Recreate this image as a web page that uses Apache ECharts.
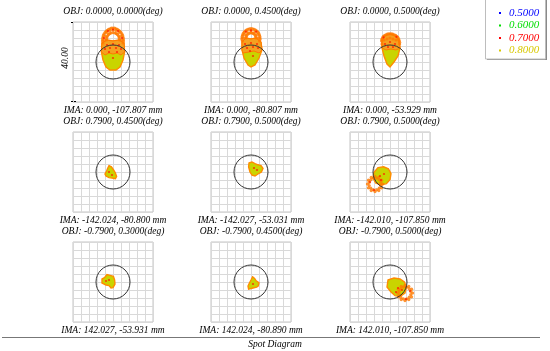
<!DOCTYPE html>
<html><head><meta charset="utf-8">
<script src="https://cdn.jsdelivr.net/npm/echarts@6/dist/echarts.min.js"></script>
<style>html,body{margin:0;padding:0;background:#fff}#c{width:550px;height:351px}</style>
</head><body><div id="c"></div>
<script>
// ---- text / categories ----
const objLabels = [
  'OBJ: 0.0000, 0.0000(deg)', 'OBJ: 0.0000, 0.4500(deg)', 'OBJ: 0.0000, 0.5000(deg)',
  'OBJ: 0.7900, 0.4500(deg)', 'OBJ: 0.7900, 0.5000(deg)', 'OBJ: 0.7900, 0.5000(deg)',
  'OBJ: -0.7900, 0.3000(deg)', 'OBJ: -0.7900, 0.4500(deg)', 'OBJ: -0.7900, 0.5000(deg)'
];
const imaLabels = [
  'IMA: 0.000, -107.807 mm', 'IMA: 0.000, -80.807 mm', 'IMA: 0.000, -53.929 mm',
  'IMA: -142.024, -80.800 mm', 'IMA: -142.027, -53.031 mm', 'IMA: -142.010, -107.850 mm',
  'IMA: 142.027, -53.931 mm', 'IMA: 142.024, -80.890 mm', 'IMA: 142.010, -107.850 mm'
];
const wavelengths = ['0.5000', '0.6000', '0.7000', '0.8000'];
const waveColors = ['#0000ff', '#00dd00', '#ff0000', '#d8c800'];
const scaleLabel = '40.00';
const axisMin = -20, axisMax = 20, axisStep = 4;
const airyRadius = 8.5;

// ---- spot data (units of the 40.00 box) ----
// outline of the 0.8 (yellow) spot cloud
const bodyPolys = [
  [[-5.5,9.5],[-3,11],[0,10.5],[3,11],[5.5,9.5],[5.8,5],[5,1],[3.5,-2.5],[1.5,-4],[-1.5,-4],[-3.5,-2.5],[-5,1],[-5.8,5]],
  [[-4.5,10],[-2.5,12],[0,11.5],[2.5,12],[5,10],[5.5,6],[4,2],[2,-1.5],[0,-2.5],[-1.5,-1.5],[-3.5,2],[-4.5,6]],
  [[-3,13],[0,14],[3,13],[4.5,11],[5,7],[4,3],[2,0],[0,-2.5],[-1.5,-1],[-3,3],[-4,7],[-4,11]],
  [[-2,3.2],[-0.8,2.6],[0.3,1],[1.2,-0.5],[1.8,-2.2],[1.2,-3.3],[-0.5,-3],[-2,-2.8],[-3.5,-2],[-4,-1],[-3.2,0.5],[-2.6,2]],
  [[-1,4.5],[0.5,5],[2,4.2],[3.5,3.6],[5,3.2],[6,1.8],[5.2,0],[3.5,-1],[2,-2],[0.5,-1.6],[-0.5,0],[-1.2,2.5]],
  [[-6,2.2],[-3.2,2.6],[-0.8,1.6],[0.5,-0.8],[0,-3.8],[-1.8,-5.8],[-4.5,-6.5],[-7.2,-5.5],[-8.5,-3],[-8,-0.2]],
  [[-4,2.5],[-3,3.7],[-1.5,3.3],[0.2,2.8],[0.8,1],[1,-1],[0,-2.8],[-1,-3],[-2,-1.8],[-3.5,-1.5],[-5.5,-0.5],[-5.5,1.5],[-4.5,2]],
  [[0.8,2.6],[1.8,1.8],[2.6,0.6],[4,-0.4],[3.6,-2],[2.8,-2.6],[1,-3],[-1.2,-3.6],[-1.5,-2],[-0.8,-0.5],[0,1]],
  [[-1,1],[2,2],[5,1.5],[7.2,0],[8.2,-2.5],[7.5,-5.5],[5,-7.2],[2.5,-6.8],[0.5,-5],[-1.5,-2.5]]
];
// region where 0.7 and 0.8 overlap (orange)
const upperPolys = [
  [[-5.5,9.5],[-3,11],[0,10.5],[3,11],[5.5,9.5],[5.8,5],[4,3.5],[2,4.5],[0,4],[-2,4.5],[-4,3.5],[-5.8,5]],
  [[-4.5,10],[-2.5,12],[0,11.5],[2.5,12],[5,10],[5.5,6],[4,4.5],[1.5,5.5],[-1,5],[-4,4.5],[-4.5,6]],
  [[-3,13],[0,14],[3,13],[4.5,11],[5,7],[3,6],[0.5,6.5],[-2,6],[-4,7],[-4,11]],
  [], [], [], [], [], []
];
// 0.7 ring rays
const ringPts = [
  [[-5,9.5],[-5.2,10.3],[-5.2,11],[-5.1,11.8],[-5,12.5],[-4.8,13.3],[-4.5,14],[-4,14.7],[-3.5,15.3],[-2.9,15.8],[-2.2,16.3],[-1.5,16.6],[-0.8,16.9],[0,17],[0.8,16.9],[1.5,16.6],[2.2,16.3],[2.9,15.8],[3.5,15.3],[4,14.7],[4.5,14],[4.8,13.3],[5,12.5],[5.1,11.8],[5.2,11],[5.2,10.3],[5,9.5],
   [-3.3,11],[-3.2,11.8],[-3,12.5],[-2.7,13.2],[-2.2,13.8],[-1.6,14.2],[-1,14.5],[0,14.7],[1,14.5],[1.6,14.2],[2.2,13.8],[2.7,13.2],[3,12.5],[3.2,11.8],[3.3,11],
   [-4.2,11],[-4,13],[-3,14.8],[-1.5,15.7],[0,16],[1.5,15.7],[3,14.8],[4,13],[4.2,11]],
  [[-4.3,10.5],[-4.5,11.3],[-4.5,12],[-4.4,12.8],[-4.2,13.5],[-3.9,14.2],[-3.5,14.8],[-3,15.4],[-2.3,15.9],[-1.6,16.3],[-0.8,16.6],[0,16.7],[0.8,16.6],[1.6,16.3],[2.3,15.9],[3,15.4],[3.5,14.8],[3.9,14.2],[4.2,13.5],[4.4,12.8],[4.5,12],[4.5,11.3],[4.3,10.5],
   [-2.5,12],[-2.4,12.7],[-2.2,13.3],[-1.7,13.9],[-1.2,14.3],[-0.6,14.5],[0,14.6],[0.6,14.5],[1.2,14.3],[1.7,13.9],[2.2,13.3],[2.4,12.7],[2.5,12],
   [-3.5,12],[-3.2,13.8],[-2,15.1],[0,15.7],[2,15.1],[3.2,13.8],[3.5,12]],
  [[-4,9],[-4.2,10.5],[-4.1,11.3],[-3.8,12],[-3.4,12.7],[-2.8,13.2],[-2.1,13.6],[-1.4,13.9],[-0.7,14.1],[0,14.1],[0.7,14.1],[1.4,13.9],[2.1,13.6],[2.8,13.3],[3.4,12.8],[3.9,12.3],[4.3,11.6],[4.6,10.8],[4.8,9.9],[4.8,9],[-1.5,11.5],[0,12],[1.5,11.5],[-3,11],[3,11]],
  [], [],
  [[-3.7,-6],[-4.2,-4.1],[-5.6,-2.7],[-7.5,-2.2],[-9.4,-2.7],[-10.8,-4.1],[-11.3,-6],[-10.8,-7.9],[-9.4,-9.3],[-7.5,-9.8],[-5.6,-9.3],[-4.2,-7.9],
   [-4.6,-5.2],[-5.4,-3.9],[-6.7,-3.1],[-8.3,-3.1],[-9.6,-3.9],[-10.4,-5.2],[-10.4,-6.8],[-9.6,-8.1],[-8.3,-8.9],[-6.7,-8.9],[-5.4,-8.1],[-4.6,-6.8]],
  [], [],
  [[11.3,-5.5],[10.8,-3.6],[9.4,-2.2],[7.5,-1.7],[5.6,-2.2],[4.2,-3.6],[3.7,-5.5],[4.2,-7.4],[5.6,-8.8],[7.5,-9.3],[9.4,-8.8],[10.8,-7.4],
   [10.4,-4.7],[9.6,-3.4],[8.3,-2.6],[6.7,-2.6],[5.4,-3.4],[4.6,-4.7],[4.6,-6.3],[5.4,-7.6],[6.7,-8.4],[8.3,-8.4],[9.6,-7.6],[10.4,-6.3]]
];
const redDots = [
  [[-3,8.5],[0,9],[3,8.5],[-4,6.5],[-1.5,7],[1.5,7],[4,6.5],[-2,5],[2,5],[0,2],[-2.5,15.5],[2.5,15.5],[0,16.2],[-4.5,12],[4.5,12]],
  [[-3,9],[0,9.5],[3,9],[-2,7],[1,7.5],[3.5,7],[-0.5,5.5],[1,3],[-2.6,15.2],[2.6,15.2],[0,15.8]],
  [[-2.5,9],[0,10],[2.5,9],[-1,7.5],[1.5,7.5],[-3.2,12.3],[3.2,12.6]],
  [[-2,0],[-0.5,-1.5]],
  [[1.5,2],[3,1]],
  [[-5,-2],[-3,-1],[-4.5,-4],[-10,-5],[-8,-9]],
  [[-2,1],[-3.5,0.5]],
  [[1,-1]],
  [[4,-3],[6,-4],[3,-5],[10,-4.5],[8,-8.6]]
];

// ---- layout ----
const colLeft = [73, 211, 350];
const rowTop = [22, 132, 242];
const box = 80;
const font = 'italic 9.5px "Liberation Serif", serif';

const chart = echarts.init(document.getElementById('c'), null, {renderer: 'canvas'});
const grids = [], xAxes = [], yAxes = [], series = [], graphics = [];

function axisCfg(i) {
  return {
    type: 'value', gridIndex: i, min: axisMin, max: axisMax, interval: axisStep,
    axisLine: {show: false}, axisTick: {show: false}, axisLabel: {show: false},
    splitLine: {show: true, lineStyle: {color: '#d9d9d9', width: 1}}
  };
}

for (let i = 0; i < 9; i++) {
  const r = Math.floor(i / 3), c = i % 3;
  const left = colLeft[c], top = rowTop[r];
  grids.push({left, top, width: box, height: box, show: true, borderColor: '#c4c4c4', borderWidth: 1, backgroundColor: 'transparent'});
  xAxes.push(axisCfg(i));
  yAxes.push(axisCfg(i));
  const body = bodyPolys[i], upper = upperPolys[i];
  series.push({
    type: 'custom', xAxisIndex: i, yAxisIndex: i, data: [[0, 0]], z: 3, silent: true,
    renderItem(params, api) {
      const children = [];
      children.push({type: 'polygon', shape: {points: body.map(p => api.coord(p))},
        style: {fill: '#c9d400', stroke: '#ff8c00', lineWidth: 1.4}});
      if (upper.length) children.push({type: 'polygon', shape: {points: upper.map(p => api.coord(p))},
        style: {fill: '#f5a020', stroke: '#ff7a00', lineWidth: 1}});
      return {type: 'group', children};
    }
  });
  series.push({
    type: 'scatter', xAxisIndex: i, yAxisIndex: i, data: ringPts[i], symbol: 'circle', symbolSize: 3.2,
    itemStyle: {color: '#ff7a00'}, z: 4, silent: true
  });
  series.push({
    type: 'scatter', xAxisIndex: i, yAxisIndex: i, data: redDots[i], symbol: 'circle', symbolSize: 2.2,
    itemStyle: {color: '#ff1a00'}, z: 5, silent: true
  });
  series.push({
    type: 'custom', xAxisIndex: i, yAxisIndex: i, data: [[0, 0]], z: 6, silent: true,
    renderItem(params, api) {
      const ctr = api.coord([0, 0]), edge = api.coord([airyRadius, 0]);
      return {type: 'circle', shape: {cx: ctr[0], cy: ctr[1], r: edge[0] - ctr[0]},
        style: {fill: 'none', stroke: '#333', lineWidth: 1}};
    }
  });
  const cx = left + box / 2;
  graphics.push({type: 'text', x: cx, y: top - 11, style: {text: objLabels[i], font, fill: '#000', textAlign: 'center', textVerticalAlign: 'middle'}});
  graphics.push({type: 'text', x: cx, y: top + box + 8, style: {text: imaLabels[i], font, fill: '#000', textAlign: 'center', textVerticalAlign: 'middle'}});
}

// scale bar on first cell
graphics.push({type: 'line', shape: {x1: 73.5, y1: 22, x2: 73.5, y2: 102}, style: {stroke: '#000', lineWidth: 1}});
graphics.push({type: 'line', shape: {x1: 71, y1: 22.5, x2: 76, y2: 22.5}, style: {stroke: '#000', lineWidth: 1}});
graphics.push({type: 'line', shape: {x1: 71, y1: 101.5, x2: 76, y2: 101.5}, style: {stroke: '#000', lineWidth: 1}});
graphics.push({type: 'text', x: 65, y: 58, rotation: Math.PI / 2, style: {text: scaleLabel, font, fill: '#000', textAlign: 'center', textVerticalAlign: 'middle'}});

// legend box
graphics.push({type: 'rect', shape: {x: 487, y: -3, width: 60, height: 63}, style: {fill: '#8a8a8a'}, z: 1});
graphics.push({type: 'rect', shape: {x: 485.5, y: -3, width: 60, height: 62}, style: {fill: '#fff', stroke: '#bdbdbd', lineWidth: 1}, z: 2});
const legY = [13, 25.5, 38, 50.5];
wavelengths.forEach((w, k) => {
  graphics.push({type: 'rect', shape: {x: 499, y: legY[k] - 1, width: 2, height: 2}, style: {fill: waveColors[k]}, z: 3});
  graphics.push({type: 'text', x: 509, y: legY[k], style: {text: w, font: 'italic 11px "Liberation Serif", serif', fill: waveColors[k], textAlign: 'left', textVerticalAlign: 'middle'}, z: 3});
});

// footer
graphics.push({type: 'line', shape: {x1: 2, y1: 337.5, x2: 540, y2: 337.5}, style: {stroke: '#777', lineWidth: 1}});
graphics.push({type: 'text', x: 275, y: 344.5, style: {text: 'Spot Diagram', font, fill: '#000', textAlign: 'center', textVerticalAlign: 'middle'}});

chart.setOption({
  animation: false,
  grid: grids, xAxis: xAxes, yAxis: yAxes, series,
  graphic: {elements: graphics}
});
</script></body></html>
